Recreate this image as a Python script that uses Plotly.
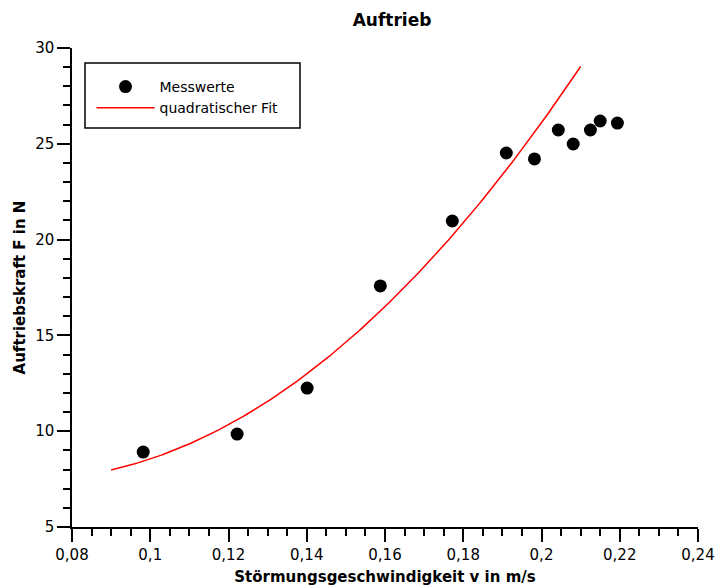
import numpy as np
import plotly.graph_objects as go

# Messwerte: Störmungsgeschwindigkeit v (m/s) und Auftriebskraft F (N)
v_mess = [0.0982, 0.1222, 0.1401, 0.1588, 0.1772, 0.1910,
          0.1982, 0.2043, 0.2081, 0.2125, 0.2150, 0.2194]
F_mess = [8.91, 9.85, 12.25, 17.58, 20.97, 24.52,
          24.21, 25.72, 24.99, 25.72, 26.19, 26.08]

# Parameter des quadratischen Fits F(v) = a0 + a1*v + a2*v^2
fit_a0 = 12.5
fit_a1 = -147.0
fit_a2 = 1075.0
fit_v_start = 0.09
fit_v_end = 0.21

# Achsenbeschriftungen
x_tickvals = [0.08, 0.10, 0.12, 0.14, 0.16, 0.18, 0.20, 0.22, 0.24]
x_ticktext = ["0,08", "0,1", "0,12", "0,14", "0,16", "0,18", "0,2", "0,22", "0,24"]
y_tickvals = [5, 10, 15, 20, 25, 30]
y_ticktext = ["5", "10", "15", "20", "25", "30"]

v_fit = np.linspace(fit_v_start, fit_v_end, 200)
F_fit = fit_a0 + fit_a1 * v_fit + fit_a2 * v_fit ** 2

FONT = "DejaVu Sans"
W, H = 716, 586
ML, MR, MT, MB = 72, 18, 48, 59
PW, PH = W - ML - MR, H - MT - MB


def px_x(p):
    return (p - ML) / PW


def px_y(p):
    return (H - MB - p) / PH


fig = go.Figure()
fig.add_trace(go.Scatter(
    x=v_mess, y=F_mess, mode="markers", name="Messwerte",
    marker=dict(color="black", size=13),
))
fig.add_trace(go.Scatter(
    x=v_fit, y=F_fit, mode="lines", name="quadratischer Fit",
    line=dict(color="red", width=1.5),
))

axis_common = dict(
    showgrid=False, zeroline=False, showline=True, linecolor="black",
    linewidth=1.5, ticks="outside", ticklen=13, tickwidth=1.5, tickcolor="black",
    tickfont=dict(family=FONT, size=15, color="black"), automargin=False,
)

# Rahmen der Legende
fig.add_shape(type="rect", xref="paper", yref="paper",
              x0=px_x(85), x1=px_x(300), y0=px_y(128), y1=px_y(63),
              line=dict(color="black", width=1.5), fillcolor="white", layer="below")

fig.update_layout(
    width=W, height=H,
    margin=dict(l=ML, r=MR, t=MT, b=MB),
    paper_bgcolor="white", plot_bgcolor="white",
    font=dict(family=FONT, color="black"),
    title=dict(text="<b>Auftrieb</b>", x=392 / W, xanchor="center",
               y=1 - 20 / H, yanchor="middle",
               font=dict(family=FONT, size=17, color="black")),
    xaxis=dict(
        range=[0.08, 0.24], tickvals=x_tickvals, ticktext=x_ticktext,
        minor=dict(dtick=0.005, tick0=0.08, ticks="outside", ticklen=7,
                   tickwidth=1.5, tickcolor="black"),
        title=dict(text="<b>Störmungsgeschwindigkeit v in m/s</b>",
                   font=dict(family=FONT, size=15, color="black"), standoff=9),
        **axis_common,
    ),
    yaxis=dict(
        range=[5, 30], tickvals=y_tickvals, ticktext=y_ticktext,
        minor=dict(dtick=1, tick0=5, ticks="outside", ticklen=7,
                   tickwidth=1.5, tickcolor="black"),
        title=dict(text="<b>Auftriebskraft F in N</b>",
                   font=dict(family=FONT, size=15, color="black"), standoff=6),
        **axis_common,
    ),
    legend=dict(
        x=px_x(91.5), y=px_y(71), xanchor="left", yanchor="top",
        borderwidth=0, bgcolor="rgba(0,0,0,0)",
        font=dict(family=FONT, size=14, color="black"),
        itemwidth=58, tracegroupgap=0,
    ),
    showlegend=True,
)

fig.write_html("out.html")
